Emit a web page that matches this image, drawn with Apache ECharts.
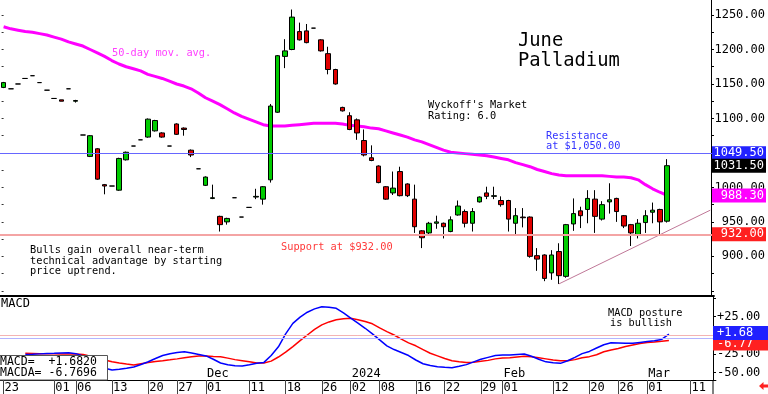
<!DOCTYPE html>
<html><head><meta charset="utf-8">
<script src="https://cdn.jsdelivr.net/npm/echarts@6/dist/echarts.min.js"></script>
<style>html,body{margin:0;padding:0;background:#fff}#c{width:768px;height:394px}</style>
</head><body><div id="c"></div>
<script>
// ---- categories (trading days) ----
const dates = [
'2023-10-23','2023-10-24','2023-10-25','2023-10-26','2023-10-27','2023-10-30','2023-10-31',
'2023-11-01','2023-11-02','2023-11-03','2023-11-06','2023-11-07','2023-11-08','2023-11-09','2023-11-10',
'2023-11-13','2023-11-14','2023-11-15','2023-11-16','2023-11-17','2023-11-20','2023-11-21','2023-11-22',
'2023-11-24','2023-11-27','2023-11-28','2023-11-29','2023-11-30',
'2023-12-01','2023-12-04','2023-12-05','2023-12-06','2023-12-07','2023-12-08','2023-12-11','2023-12-12',
'2023-12-13','2023-12-14','2023-12-15','2023-12-18','2023-12-19','2023-12-20','2023-12-21','2023-12-22',
'2023-12-26','2023-12-27','2023-12-28','2023-12-29',
'2024-01-02','2024-01-03','2024-01-04','2024-01-05','2024-01-08','2024-01-09','2024-01-10','2024-01-11',
'2024-01-12','2024-01-16','2024-01-17','2024-01-18','2024-01-19','2024-01-22','2024-01-23','2024-01-24',
'2024-01-25','2024-01-26','2024-01-29','2024-01-30','2024-01-31',
'2024-02-01','2024-02-02','2024-02-05','2024-02-06','2024-02-07','2024-02-08','2024-02-09','2024-02-12',
'2024-02-13','2024-02-14','2024-02-15','2024-02-16','2024-02-20','2024-02-21','2024-02-22','2024-02-23',
'2024-02-26','2024-02-27','2024-02-28','2024-02-29',
'2024-03-01','2024-03-04','2024-03-05','2024-03-06','2024-03-07','2024-03-08','2024-03-11','2024-03-12',
'2024-03-13','2024-03-14'
];
const dateTicks = ['2023-10-23','2023-11-01','2023-11-06','2023-11-13','2023-11-20','2023-11-27','2023-12-01',
'2023-12-11','2023-12-18','2023-12-26','2024-01-02','2024-01-08','2024-01-16','2024-01-22','2024-01-29',
'2024-02-01','2024-02-12','2024-02-20','2024-02-26','2024-03-01','2024-03-11'];
const monthDates = ['2023-12-01','2024-01-02','2024-02-01','2024-03-01'];
const monthNames = ['Dec','2024','Feb','Mar'];

// ---- price data ----
const opens = [1145,1143,1150,1158,1162,1152,1141,1129,1127,1143,
1125,1076,1045,1056,1004,1002,996,1040,1060,1069,
1073,1082,1079,1060,1092,1086,1054,1027,1003,984,
958,950,985,957,971,986,983,1011,1109,1190,
1200,1226,1227,1231,1214,1194,1171,1116,1104,1098,
1068,1043,1031,1001,992,1023,1005,983,937,934,
948,948,936,960,965,948,979,992,987,981,
981,948,957,957,901,902,876,907,871,947,
966,968,983,954,979,984,959,946,931,949,
964,968,951];
const closes = [1152,1143,1150,1158,1162,1152,1141,1129,1125,1143,
1126,1076,1075,1012,1002,1002,1042,1051,1060,1069,
1099,1097,1073,1060,1077,1084,1047,1027,1015,985,
946,955,985,957,971,987,1001,1118,1191,1198,
1247,1214,1210,1231,1198,1171,1150,1111,1084,1079,
1047,1039,1007,983,999,988,988,943,927,948,
950,943,953,973,948,965,986,987,988,975,
954,959,956,900,896,868,902,872,946,962,
959,984,958,975,982,965,944,934,948,959,
967,950,1031.5];
const lows = [1144,1143,1150,1158,1162,1152,1141,1129,1125,1143,
1123,1076,1044,1011,990,1002,995,1039,1060,1069,
1072,1081,1072,1060,1076,1075,1044,1027,1002,983,
936,946,985,957,971,983,975,1007,1108,1173,
1199,1213,1209,1231,1197,1164,1149,1110,1083,1069,
1045,1038,1006,982,989,987,986,934,912,932,
940,926,935,959,942,936,978,983,983,972,
936,930,942,898,879,864,866,860,869,937,
941,948,934,952,962,950,941,915,926,934,
948,930,949];
const highs = [1153,1143,1150,1158,1162,1152,1141,1129,1127,1143,
1127,1076,1076,1057,1005,1002,1043,1052,1060,1069,
1100,1098,1080,1060,1093,1087,1055,1027,1016,1004,
959,956,985,957,971,998,1002,1121,1192,1215,
1258,1239,1237,1231,1215,1204,1172,1117,1109,1100,
1084,1061,1032,1002,1023,1030,1006,1004,938,950,
959,949,958,981,968,970,987,1001,1001,987,
982,970,970,958,912,903,909,919,947,984,
972,996,996,980,1006,985,960,947,954,967,
978,969,1041];
const ma50 = [1233,1230,1228,1226,1225,1223,1221,1218,1215,1211,
1208,1205,1200,1195,1190,1184,1179,1175,1172,1169,
1164,1161,1158,1154,1150,1147,1143,1137,1130,1125,
1120,1114,1108,1103,1099,1095,1091,1089,1089,1089,
1090,1091,1092,1093,1093,1093,1093,1092,1090,1089,
1088,1086,1085,1082,1079,1076,1073,1069,1066,1062,
1058,1054,1051,1050,1049,1048,1047,1046,1044,1042,
1040,1036,1033,1030,1026,1023,1020,1018,1017,1017,
1017,1017,1017,1017,1016,1015,1015,1014,1011,1004,
998,993,988.3];

// ---- MACD data ----
const macd = [null,null,null,-25.5,-25.3,-24.8,-24.3,-24,-23.6,-23.3,
-24.5,-27.5,-33,-39,-44,-46.5,-45.5,-44,-42.3,-39,
-35.4,-31,-27,-24.5,-23,-22,-23.5,-25.5,-27.5,-32,
-37,-39.5,-40.8,-41,-39.5,-37.5,-36.2,-27,-15.3,2,
16,24.5,31,35.5,38.3,37.8,36.2,30,23,16.5,
9.5,2,-6,-14,-19,-23,-27,-33,-38,-40.5,
-42.1,-42.8,-43.3,-41.5,-39.2,-35.5,-32,-29.5,-27,-26.4,
-26.3,-25.5,-25,-28,-32,-35.5,-36.8,-37.5,-34,-29.5,
-24.5,-21.5,-17,-12.5,-10,-10.2,-10.5,-10.7,-9.5,-8.3,
-7.2,-5.5,1.6820];
const macda = [null,null,null,-24.1,-24.3,-24.5,-24.6,-24.7,-24.8,-24.9,
-25,-25.5,-28,-30.5,-33,-35.4,-37,-38.5,-39.7,-38,
-36.5,-35,-34,-32.8,-31.5,-30,-28.5,-27.5,-27.6,-28.2,
-28.7,-30.5,-32.5,-34,-35.5,-37,-37,-34.5,-29,-22.5,
-15,-7,0.5,8,14,18,21,22.3,22.8,21,
18.5,15.5,10,5,0.5,-5,-10,-14,-19,-24,
-27.5,-31,-34,-35.5,-36.5,-36,-34.8,-33.5,-31.5,-30.2,
-30,-29,-28,-28.5,-30,-31.5,-33,-34,-34,-32.5,
-30,-28.5,-26,-22,-19.5,-17.5,-15,-13,-11,-9.5,
-9,-8,-6.7696];

// ---- levels & ticks ----
const resistance = 1049.5;
const support = 932;
const trendStart = ['2024-02-13', 860];
const trendEnd = ['2024-03-14', 967];
const priceLabels = [900,950,1000,1050,1100,1150,1200,1250];
const priceTicks = [850,875,900,925,950,975,1000,1025,1050,1075,1100,1125,1150,1175,1200,1225,1250];
const macdLabels = [-50,-25,25];
const macdTicks = [-50,-25,0,25,50];
const macdRef = -3.6;

const FONT = '"DejaVu Sans Mono", monospace';
const GL = -1.6, GR = 52.1, AXOFF = -2.9;
const n = closes.length;
const ohlc = opens.map((o,i)=>[o, closes[i], lows[i], highs[i]]);
const lastClose = closes[n-1], lastMA = ma50[n-1], lastMacd = macd[n-1], lastMacda = macda[n-1];

function priceTag(bg, text, dy){
  return {show:true, position:'end', distance:GR, align:'right', verticalAlign:'middle',
    formatter:text, color:'#fff', backgroundColor:bg, fontFamily:FONT, fontSize:12, width:50,
    padding:[1,2,0,2], lineHeight:13, offset:[0, dy||0]};
}
function macdTag(bg, text, dy){
  return {show:true, position:'end', distance:AXOFF, align:'left', verticalAlign:'middle',
    formatter:text, color:'#fff', backgroundColor:bg, fontFamily:FONT, fontSize:12, width:49,
    padding:[1,2,0,4], lineHeight:13, offset:[0, dy||0]};
}
const hidden = {color:'rgba(0,0,0,0)', width:0};

function t(x, y, s, size, color){
  return {type:'text', x:x, y:y, z:100, silent:true,
    style:{text:s, fontFamily:FONT, fontSize:size, fill:color||'#000', align:'left', verticalAlign:'middle'}};
}
const fmtSigned = v => (v>0?'+':'') + v.toFixed(2);
const fmtSigned4 = v => (v>0?'+':'') + v.toFixed(4);

const chart = echarts.init(document.getElementById('c'), null, {renderer:'canvas'});
chart.setOption({
  animation:false,
  backgroundColor:'#fff',
  textStyle:{fontFamily:FONT},
  grid:[
    {left:GL, right:GR, top:0, height:296},
    {left:GL, right:GR, top:297, height:83}
  ],
  xAxis:[
    {type:'category', gridIndex:0, data:dates, boundaryGap:true,
     axisLine:{show:true, onZero:false, lineStyle:{color:'#000', width:2}}, axisTick:{show:false}, axisLabel:{show:false}, splitLine:{show:false}},
    {type:'category', gridIndex:1, data:dates, boundaryGap:true, position:'bottom',
     axisLine:{show:true, onZero:false, lineStyle:{color:'#000', width:1}},
     axisTick:{show:true, alignWithLabel:true, length:14, interval:(i,v)=>dateTicks.indexOf(v)>=0, lineStyle:{color:'#444'}},
     axisLabel:{show:true, interval:(i,v)=>dateTicks.indexOf(v)>=0, formatter:v=>v.slice(8), align:'left',
       margin:2, fontSize:12, color:'#000', fontFamily:FONT, padding:[0,0,0,1]},
     splitLine:{show:false}},
    {type:'category', gridIndex:1, data:dates, boundaryGap:true, position:'bottom',
     axisLine:{show:false, onZero:false}, axisTick:{show:false}, splitLine:{show:false},
     axisLabel:{show:true, inside:true, interval:(i,v)=>monthDates.indexOf(v)>=0,
       formatter:v=>{const k=monthDates.indexOf(v); return k>=0?monthNames[k]:'';},
       align:'left', margin:0, fontSize:12, color:'#000', fontFamily:FONT, padding:[0,0,0,1]}}
  ],
  yAxis:[
    {type:'value', gridIndex:0, position:'right', offset:AXOFF, min:842.5, max:1271.8,
     axisLine:{show:true, lineStyle:{color:'#000'}},
     axisTick:{show:true, length:3, customValues:priceTicks, lineStyle:{color:'#000'}},
     axisLabel:{show:true, customValues:priceLabels, formatter:v=>v.toFixed(2), align:'right', margin:54,
       fontSize:12, color:'#000', fontFamily:FONT},
     splitLine:{show:false}},
    {type:'value', gridIndex:0, position:'left', offset:GL, min:842.5, max:1271.8,
     axisLine:{show:false}, axisTick:{show:true, inside:true, length:2, customValues:priceTicks, lineStyle:{color:'#333'}},
     axisLabel:{show:false}, splitLine:{show:false}},
    {type:'value', gridIndex:1, position:'right', offset:AXOFF, min:-59.8, max:51.4,
     axisLine:{show:true, lineStyle:{color:'#000'}},
     axisTick:{show:true, length:3, customValues:macdTicks, lineStyle:{color:'#000'}},
     axisLabel:{show:true, customValues:macdLabels, formatter:fmtSigned, align:'left', margin:4,
       fontSize:12, color:'#000', fontFamily:FONT},
     splitLine:{show:false}}
  ],
  series:[
    {type:'line', name:'ma50', xAxisIndex:0, yAxisIndex:0, data:ma50, symbol:'none', z:2,
     lineStyle:{color:'#ff00ff', width:3}, silent:true,
     markLine:{silent:true, symbol:['none','none'], animation:false,
       data:[{yAxis:lastMA, lineStyle:hidden, label:priceTag('#ff00ff', lastMA.toFixed(2))}]}},
    {type:'line', name:'trend', xAxisIndex:0, yAxisIndex:0, data:[trendStart, trendEnd], symbol:'none', z:2,
     lineStyle:{color:'#c07898', width:1}, silent:true},
    {type:'candlestick', name:'price', xAxisIndex:0, yAxisIndex:0, data:ohlc, barWidth:5, z:3, silent:true,
     itemStyle:{color:'#00cc00', color0:'#e00000', borderColor:'#000', borderColor0:'#000', borderColorDoji:'#000', borderWidth:1},
     markLine:{silent:true, symbol:['none','none'], animation:false, z:4,
       data:[
         {yAxis:support, lineStyle:{color:'#f4a4a4', width:2, type:'solid'}, label:priceTag('#ff2020', support.toFixed(2))},
         {yAxis:resistance, lineStyle:{color:'#6666ff', width:1, type:'solid'}, label:priceTag('#2222ff', resistance.toFixed(2))},
         {yAxis:lastClose, lineStyle:hidden, label:priceTag('#000000', lastClose.toFixed(2))}
       ]}},
    {type:'line', name:'MACDA', xAxisIndex:1, yAxisIndex:2, data:macda, symbol:'none', z:2, silent:true,
     lineStyle:{color:'#ff0000', width:1.5},
     markLine:{silent:true, symbol:['none','none'], animation:false,
       data:[
         {yAxis:0, lineStyle:{color:'#f4b4b4', width:1, type:'solid'}, label:{show:false}},
         {yAxis:macdRef, lineStyle:{color:'#b4b4ff', width:1, type:'solid'}, label:{show:false}},
         {yAxis:lastMacda, lineStyle:hidden, label:macdTag('#ff2020', fmtSigned(lastMacda), 3)}
       ]}},
    {type:'line', name:'MACD', xAxisIndex:1, yAxisIndex:2, data:macd, symbol:'none', z:3, silent:true,
     lineStyle:{color:'#0000ff', width:1.5},
     markLine:{silent:true, symbol:['none','none'], animation:false, z:6,
       data:[{yAxis:lastMacd, lineStyle:hidden, label:macdTag('#2020ff', fmtSigned(lastMacd), -1)}]}}
  ],
  graphic:[
    t(112, 53, '50-day mov. avg.', 10.3, '#ff40ff'),
    t(518, 41, 'June', 18.8, '#000'),
    t(518, 61, 'Palladium', 18.8, '#000'),
    t(428, 105, "Wyckoff's Market", 10.3, '#000'),
    t(428, 116, 'Rating: 6.0', 10.3, '#000'),
    t(546, 136, 'Resistance', 10.3, '#3333ff'),
    t(546, 146.5, 'at $1,050.00', 10.3, '#3333ff'),
    t(281, 247, 'Support at $932.00', 10.3, '#ff3a3a'),
    t(30, 250.5, 'Bulls gain overall near-term', 10.3, '#000'),
    t(30, 261, 'technical advantage by starting', 10.3, '#000'),
    t(30, 271.5, 'price uptrend.', 10.3, '#000'),
    t(1, 303.5, 'MACD', 12, '#000'),
    t(608, 313, 'MACD posture', 10.3, '#000'),
    t(610, 323.5, 'is bullish', 10.3, '#000'),
    {type:'rect', z:99, silent:true, shape:{x:-1, y:355.5, width:108.5, height:24.5}, style:{fill:'#fff', stroke:'#555', lineWidth:1}},
    t(0, 362, 'MACD=  ' + fmtSigned4(lastMacd), 11.5, '#000'),
    t(0, 373, 'MACDA= ' + fmtSigned4(lastMacda), 11.5, '#000'),
    {type:'line', z:100, silent:true, shape:{x1:713, y1:380, x2:713, y2:394}, style:{stroke:'#000', lineWidth:1}},
    {type:'polygon', z:100, silent:true, shape:{points:[[759,386],[763.5,382],[763.5,384.5],[768,384.5],[768,387.5],[763.5,387.5],[763.5,390]]}, style:{fill:'#ff2020'}}
  ]
});
</script>
</body></html>
